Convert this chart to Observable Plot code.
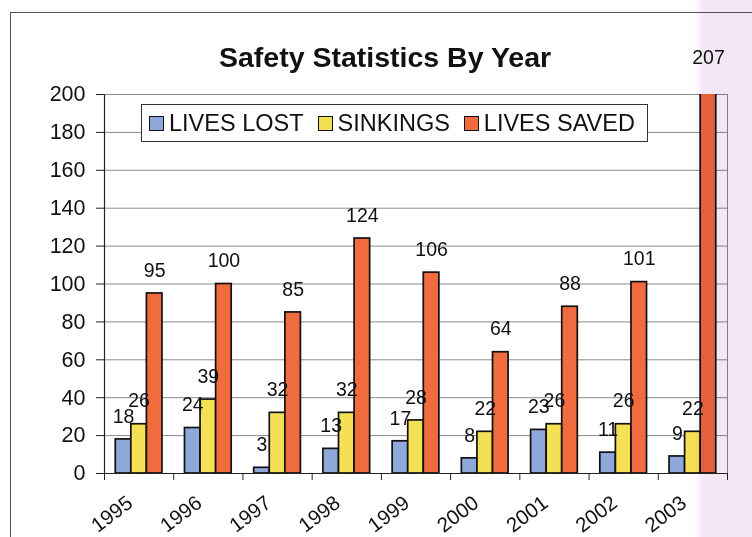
<!DOCTYPE html>
<html>
<head>
<meta charset="utf-8">
<script src="https://cdn.jsdelivr.net/npm/d3@7"></script>
<script src="https://cdn.jsdelivr.net/npm/@observablehq/plot@0.6"></script>
<style>
  html, body { margin: 0; padding: 0; background: #fff; }
  #chart {
    position: relative; width: 752px; height: 537px; overflow: hidden;
    font-family: "Liberation Sans", Arial, sans-serif; color: #111;
  }
  #chart svg { position: absolute; left: 0; top: 0; }
  .sheet {
    position: absolute; left: 10px; top: 12px; width: 800px; height: 600px;
    border-left: 1px solid #555; border-top: 1px solid #555;
  }
  .title {
    position: absolute; left: 219px; top: 40px;
    font-size: 28.5px; font-weight: bold; white-space: nowrap; line-height: 34px;
  }
  .legend {
    position: absolute; left: 141px; top: 104px; height: 36px;
    display: flex; align-items: center; gap: 0;
    background: #fff; border: 1px solid #333; padding: 0 12px 0 7px;
    font-size: 23.5px; white-space: nowrap;
  }
  .legend .item { display: flex; align-items: center; margin-right: 14px; }
  .legend .item:last-child { margin-right: 0; }
  .legend .sw {
    width: 13px; height: 13px; border: 1.5px solid #111; margin-right: 5px;
    display: inline-block;
  }
  .edge {
    position: absolute; left: 694px; top: 0; width: 70px; height: 537px;
    background: linear-gradient(to right, rgba(243,230,245,0) 0px, rgba(243,230,245,1) 10px);
    mix-blend-mode: multiply; pointer-events: none;
  }
</style>
</head>
<body>
<div id="chart"></div>
<script>
// Yearly safety statistics
const years = ["1995", "1996", "1997", "1998", "1999", "2000", "2001", "2002", "2003"];
const livesLost = [18, 24, 3, 13, 17, 8, 23, 11, 9];
const sinkings = [26, 39, 32, 32, 28, 22, 26, 26, 22];
const livesSaved = [95, 100, 85, 124, 106, 64, 88, 101, 207];
const seriesNames = ["LIVES LOST", "SINKINGS", "LIVES SAVED"];
const seriesColors = ["#8ea8da", "#f5e055", "#f06b3e"];
const yTicks = [0, 20, 40, 60, 80, 100, 120, 140, 160, 180, 200];

const seriesValues = [livesLost, sinkings, livesSaved];
const rows = years.flatMap((year, i) =>
  seriesNames.map((series, j) => ({year, series, value: seriesValues[j][i], i, j}))
);

// Each year occupies one unit on x; three bars sit in the middle of it.
const BAR = 0.225;
const PAD = (1 - BAR * seriesNames.length) / 2;
const left = d => d.i + PAD + d.j * BAR;
const boundaries = d3.range(0, years.length + 1);

const plot = Plot.plot({
  width: 752,
  height: 537,
  marginTop: 94,
  marginRight: 25,
  marginBottom: 64,
  marginLeft: 104,
  style: {fontFamily: '"Liberation Sans", Arial, sans-serif', background: "transparent", color: "#111"},
  x: {domain: [0, years.length]},
  y: {domain: [0, 200]},
  color: {domain: seriesNames, range: seriesColors},
  marks: [
    Plot.gridY(yTicks, {stroke: "#8a8a8a", strokeOpacity: 1, strokeWidth: 1}),
    Plot.ruleX([years.length], {stroke: "#8a8a8a", strokeWidth: 1}),
    Plot.rect(rows, {
      x1: left,
      x2: d => left(d) + BAR,
      y1: 0,
      y2: "value",
      fill: "series",
      stroke: "#111",
      strokeWidth: 1.7,
      clip: true
    }),
    Plot.ruleX([0], {stroke: "#222", strokeWidth: 1.2}),
    Plot.ruleY([0], {stroke: "#222", strokeWidth: 1.2}),
    Plot.axisY({ticks: yTicks, tickSize: 8, tickPadding: 11, fontSize: 21.5, label: null, stroke: "#222"}),
    Plot.axisX({ticks: boundaries, tickSize: 7, tickFormat: () => "", label: null, stroke: "#222"}),
    Plot.text(years, {
      x: (d, i) => i + 0.5,
      frameAnchor: "bottom",
      text: d => d,
      rotate: -37,
      textAnchor: "end",
      lineAnchor: "middle",
      dx: -9,
      dy: 27,
      fontSize: 20.5,
      fill: "#111"
    }),
    Plot.text(rows, {
      x: d => left(d) + BAR / 2,
      y: "value",
      text: d => String(d.value),
      lineAnchor: "middle",
      dy: -23,
      fontSize: 19.5,
      fill: "#111"
    })
  ]
});

const chart = document.getElementById("chart");
chart.appendChild(plot);

const sheet = document.createElement("div");
sheet.className = "sheet";
chart.appendChild(sheet);

const title = document.createElement("div");
title.className = "title";
title.textContent = "Safety Statistics By Year";
chart.appendChild(title);

const legend = document.createElement("div");
legend.className = "legend";
seriesNames.forEach((name, k) => {
  const item = document.createElement("span");
  item.className = "item";
  const sw = document.createElement("span");
  sw.className = "sw";
  sw.style.background = seriesColors[k];
  const label = document.createElement("span");
  label.textContent = name;
  item.appendChild(sw);
  item.appendChild(label);
  legend.appendChild(item);
});
chart.appendChild(legend);

const edge = document.createElement("div");
edge.className = "edge";
chart.appendChild(edge);
</script>
</body>
</html>
